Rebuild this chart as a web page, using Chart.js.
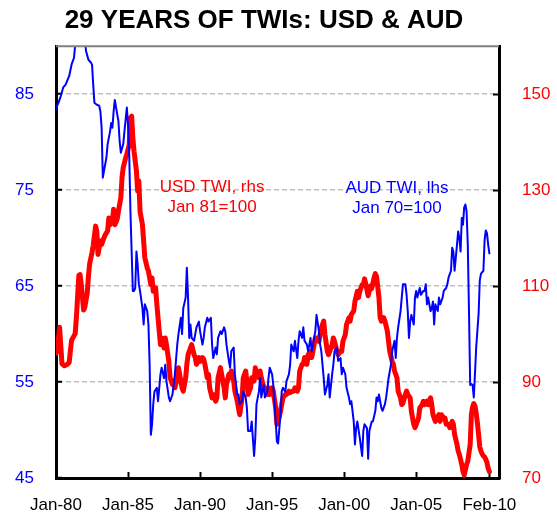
<!DOCTYPE html>
<html><head><meta charset="utf-8">
<script src="https://cdn.jsdelivr.net/npm/chart.js@4/dist/chart.umd.min.js"></script>
<style>html,body{margin:0;padding:0;background:#fff}#wrap{width:557px;height:516px;position:relative}</style>
</head><body><div id="wrap"><canvas id="c" width="557" height="516"></canvas></div>
<script>
// Month index counted from Jan-1980 (0) to Feb-2010 (361)
const xTickMonths = [0, 60, 120, 180, 240, 300, 361];
const xTickLabels = ['Jan-80', 'Jan-85', 'Jan-90', 'Jan-95', 'Jan-00', 'Jan-05', 'Feb-10'];
const audTicks = [45, 55, 65, 75, 85];
const usdTicks = [70, 90, 110, 130, 150];

const audMonths = [0,1,2,4,6,8,11,13,15,16,18,20,22,24,25,27,29,30,31,32,34,36,37,38,39,40,42,43,45,46,47,48,49,51,52,53,54,56,57,59,60,61,62,63,64,65,66,67,68,69,70,72,73,74,76,77,78,79,80,81,82,84,85,86,87,88,90,91,92,94,95,97,98,99,101,102,104,105,106,108,109,110,111,112,113,115,116,117,119,120,122,123,124,126,127,129,130,131,133,134,135,137,138,140,141,142,144,145,146,148,149,151,152,153,155,156,158,159,160,162,163,165,166,167,169,170,171,173,174,176,177,178,180,181,183,184,185,187,188,189,191,192,194,195,196,198,199,201,202,203,205,206,207,209,210,212,213,214,216,217,219,220,221,223,224,226,227,228,230,231,232,234,235,237,238,239,241,242,244,245,246,248,249,250,251,253,255,256,257,259,260,261,263,264,266,267,268,269,271,272,274,275,276,277,279,280,282,283,284,285,287,288,289,291,292,293,294,295,296,298,299,300,301,303,304,306,307,308,309,310,312,313,314,315,316,318,319,320,322,323,325,326,327,329,330,331,332,334,335,336,337,338,339,340,341,342,343,344,345,346,347,348,349,350,352,353,354,356,357,358,359,360,361];
const audValues = [83.4,83.8,84.1,84.8,85.7,86.0,86.9,88.1,88.8,90.2,91.5,92.3,92.0,90.8,89.5,88.6,88.3,88.1,86.0,84.1,83.9,83.8,83.2,81.5,76.3,77.0,78.4,79.8,81.1,82.0,81.5,83.2,84.4,82.9,82.2,80.1,78.9,79.8,81.1,83.6,81.8,78.7,72.8,68.6,64.5,64.5,64.8,68.6,67.3,65.2,64.5,62.7,61.0,63.1,62.4,61.0,56.8,49.5,50.6,52.7,54.0,54.4,53.0,54.4,55.8,56.5,55.4,56.8,55.1,53.4,53.0,53.7,54.7,55.8,58.9,60.0,61.7,60.0,62.7,63.8,66.9,63.8,59.6,61.0,59.6,59.3,60.0,60.7,61.3,60.3,58.9,59.6,60.7,61.7,61.3,61.7,58.9,57.5,58.6,57.9,59.6,60.3,60.0,60.7,60.3,58.9,57.2,56.5,58.2,58.6,55.8,53.7,53.7,52.7,53.0,54.0,53.4,52.3,49.9,49.9,50.9,47.3,49.2,52.7,54.0,55.4,53.4,54.7,53.4,54.0,55.4,56.5,55.8,54.7,50.9,48.8,48.6,51.6,54.0,54.4,54.0,55.1,55.8,56.8,58.9,58.2,59.3,57.5,59.3,60.3,59.6,60.7,59.3,58.9,58.2,59.6,58.2,58.9,60.3,62.0,60.3,58.9,58.2,55.4,53.7,54.7,55.8,53.4,55.8,56.8,58.2,58.6,57.2,57.5,55.8,56.5,55.8,54.4,53.4,52.7,53.0,50.9,48.5,50.2,50.9,49.2,47.3,49.9,50.6,50.2,47.0,49.9,50.9,50.9,52.0,53.4,53.0,53.7,52.3,52.0,52.7,53.4,54.4,55.4,56.8,58.2,59.3,57.5,59.6,60.7,62.4,63.8,65.2,65.2,64.1,62.4,59.6,61.3,62.0,61.0,63.8,64.5,63.8,64.8,64.1,64.5,64.5,65.2,63.1,63.8,62.4,62.7,63.4,61.0,63.1,62.4,63.8,63.1,63.8,64.5,64.8,65.2,65.9,66.6,69.0,68.6,66.6,69.3,70.7,70.0,68.6,72.1,71.4,73.2,73.5,72.8,69.3,62.4,54.7,54.8,54.7,53.4,55.9,58.6,62.1,65.6,66.3,66.6,69.8,70.8,70.5,69.3,68.4];

const usdMonths = [0,1,3,5,7,9,11,12,13,16,17,19,20,21,23,24,26,27,28,30,31,33,34,35,37,38,40,41,43,44,45,47,48,49,51,52,54,55,56,58,59,61,62,63,64,65,67,68,69,70,72,73,74,76,77,79,80,81,83,84,85,86,87,88,90,91,92,94,95,97,98,99,101,102,104,105,106,108,109,110,112,113,115,116,117,119,120,122,123,124,126,127,128,130,131,133,134,135,137,138,140,141,142,144,145,146,148,149,151,152,153,155,156,158,159,160,162,163,165,166,167,169,170,171,173,174,176,177,178,180,181,183,184,185,187,188,189,191,192,194,195,197,198,199,201,202,203,205,206,207,209,210,212,213,214,216,217,219,220,221,223,224,226,227,228,230,231,232,234,235,237,238,239,241,242,244,245,246,248,249,251,252,253,255,256,257,258,260,262,263,265,266,267,269,270,271,273,274,276,277,278,280,281,282,284,285,287,288,289,291,292,293,295,296,298,299,301,302,303,305,306,307,309,310,312,313,314,316,317,319,320,321,323,324,325,327,328,330,331,332,334,335,336,338,339,340,341,342,343,345,346,347,348,349,350,351,352,353,354,355,356,357,358,359,360,361];
const usdValues = [96.0,96.5,101.4,93.8,93.4,93.6,94.1,96.6,98.7,100.1,103.5,112.2,112.4,110.5,105.0,105.6,108.5,112.0,114.6,117.0,118.5,122.5,121.4,116.6,119.4,118.7,120.1,120.7,121.5,124.2,122.8,123.5,126.0,122.8,124.0,125.6,128.4,132.6,134.7,136.7,137.5,139.5,145.1,145.4,140.9,138.1,134.0,129.8,131.9,125.6,122.8,119.4,115.9,113.8,113.1,110.3,111.7,108.9,109.6,106.2,103.4,100.6,97.8,99.2,97.1,99.2,97.8,94.3,90.9,89.5,90.2,88.8,90.9,93.0,90.2,88.8,88.1,90.9,93.7,95.7,97.1,97.8,95.7,95.1,93.7,95.1,94.3,95.1,94.8,93.7,90.9,91.6,88.8,86.7,87.4,86.0,86.7,90.9,93.0,91.6,88.8,86.7,89.5,91.6,90.9,92.3,90.2,88.1,86.0,84.6,83.2,86.7,90.9,92.3,90.2,87.4,88.8,90.9,90.2,93.0,91.6,90.9,92.3,90.9,89.0,88.8,87.4,88.8,87.4,88.8,88.1,84.6,81.2,81.8,83.9,85.3,86.7,87.4,87.4,88.1,87.8,88.1,88.1,88.8,88.1,88.8,92.3,93.7,93.7,95.1,93.7,95.7,96.4,95.1,96.4,99.2,99.2,98.5,99.9,101.3,102.7,99.9,96.4,95.7,96.4,97.8,99.2,98.5,96.4,95.7,96.4,96.4,98.5,99.9,102.0,103.4,102.7,104.1,104.8,106.8,108.9,107.6,108.9,110.3,110.3,111.5,110.5,108.0,110.0,109.5,111.8,112.6,112.0,107.6,103.4,102.7,103.4,102.7,100.6,98.5,96.4,94.3,93.7,92.3,90.9,88.1,86.7,85.3,85.6,87.4,88.1,87.4,86.7,83.9,81.2,80.5,81.8,82.5,84.6,85.3,86.0,85.3,86.0,85.3,86.7,85.3,83.2,81.8,82.5,83.2,81.8,83.2,82.5,82.5,81.2,81.2,80.5,81.8,81.2,79.1,77.0,75.6,74.9,72.8,71.4,70.6,71.7,72.8,73.5,77.0,83.2,84.8,85.5,85.0,83.5,81.5,79.0,76.5,75.6,75.0,74.6,74.4,73.9,73.2,72.0,71.3];

const chartTitle = '29 YEARS OF TWIs: USD & AUD';
const usdNote = ['USD TWI, rhs', 'Jan 81=100'];
const audNote = ['AUD TWI, lhs', 'Jan 70=100'];

const FONT = "'Liberation Sans', Arial, Helvetica, sans-serif";
Chart.defaults.font.family = FONT;

const toPoints = (ms, vs) => ms.map((m, i) => ({x: m, y: vs[i]}));
const setTicks = (vals) => (scale) => { scale.ticks = vals.map(v => ({value: v})); };
const fitY = (w) => (s) => { s.width = w; s.paddingTop = 0; s.paddingBottom = 0; };

const frameAndNotes = {
  id: 'frameAndNotes',
  afterDraw(chart) {
    const {ctx, chartArea: a, scales} = chart;
    ctx.save();
    // top frame line
    ctx.strokeStyle = '#808080';
    ctx.lineWidth = 2;
    ctx.beginPath();
    ctx.moveTo(a.left, a.top);
    ctx.lineTo(a.right, a.top);
    ctx.stroke();
    // notes
    ctx.font = '17px ' + FONT;
    ctx.textAlign = 'center';
    ctx.textBaseline = 'middle';
    const rx = scales.x.getPixelForValue(130);
    ctx.fillStyle = '#ff0000';
    ctx.fillText(usdNote[0], rx, scales.yR.getPixelForValue(130.6));
    ctx.fillText(usdNote[1], rx, scales.yR.getPixelForValue(126.4));
    const bx = scales.x.getPixelForValue(284);
    ctx.fillStyle = '#0000ff';
    ctx.fillText(audNote[0], bx, scales.yL.getPixelForValue(75.2));
    ctx.fillText(audNote[1], bx, scales.yL.getPixelForValue(73.1));
    ctx.restore();
  }
};

new Chart(document.getElementById('c'), {
  type: 'line',
  data: {
    datasets: [
      {label: 'AUD TWI, lhs', data: toPoints(audMonths, audValues), yAxisID: 'yL',
       borderColor: '#0000ff', backgroundColor: '#0000ff', borderWidth: 2, pointRadius: 0,
       tension: 0, borderJoinStyle: 'round', borderCapStyle: 'round', fill: false},
      {label: 'USD TWI, rhs', data: toPoints(usdMonths, usdValues), yAxisID: 'yR',
       borderColor: '#ff0000', backgroundColor: '#ff0000', borderWidth: 5, pointRadius: 0,
       tension: 0, borderJoinStyle: 'round', borderCapStyle: 'round', fill: false}
    ]
  },
  options: {
    responsive: false, animation: false, devicePixelRatio: 1,
    layout: {padding: {left: 0, right: 29, top: 0, bottom: 0}},
    plugins: {
      legend: {display: false}, tooltip: {enabled: false},
      title: {display: true, text: chartTitle, color: '#000',
              font: {size: 26, weight: 'bold', family: FONT}, padding: {top: 5, bottom: 10}}
    },
    scales: {
      x: {type: 'linear', min: 0, max: 369,
          afterBuildTicks: setTicks(xTickMonths),
          afterFit: (s) => { s.height = 38; s.paddingLeft = 0; s.paddingRight = 0; },
          ticks: {callback: (v) => xTickLabels[xTickMonths.indexOf(v)], color: '#000',
                  font: {size: 17}, padding: 23, maxRotation: 0, autoSkip: false},
          grid: {drawOnChartArea: false, tickLength: -6, tickColor: '#000', tickWidth: 2},
          border: {color: '#000', width: 3}},
      yL: {position: 'left', min: 45, max: 90,
           afterBuildTicks: setTicks(audTicks),
           afterFit: fitY(56),
           ticks: {color: '#0000ff', font: {size: 17}, padding: 28},
           grid: {color: (c) => (c.tick && c.tick.value === 45) ? 'rgba(0,0,0,0)' : '#c0c0c0',
                  lineWidth: 1.5, tickLength: -6, tickColor: '#000', tickWidth: 2},
           border: {color: '#000', width: 3, dash: [5, 3]}},
      yR: {position: 'right', min: 70, max: 160,
           afterBuildTicks: setTicks(usdTicks),
           afterFit: fitY(29),
           ticks: {color: '#ff0000', font: {size: 17}, mirror: true, crossAlign: 'far', padding: 51.4},
           grid: {drawOnChartArea: false, tickLength: -6, tickColor: '#000', tickWidth: 2},
           border: {color: '#000', width: 3}}
    }
  },
  plugins: [frameAndNotes]
});
</script>
</body></html>
